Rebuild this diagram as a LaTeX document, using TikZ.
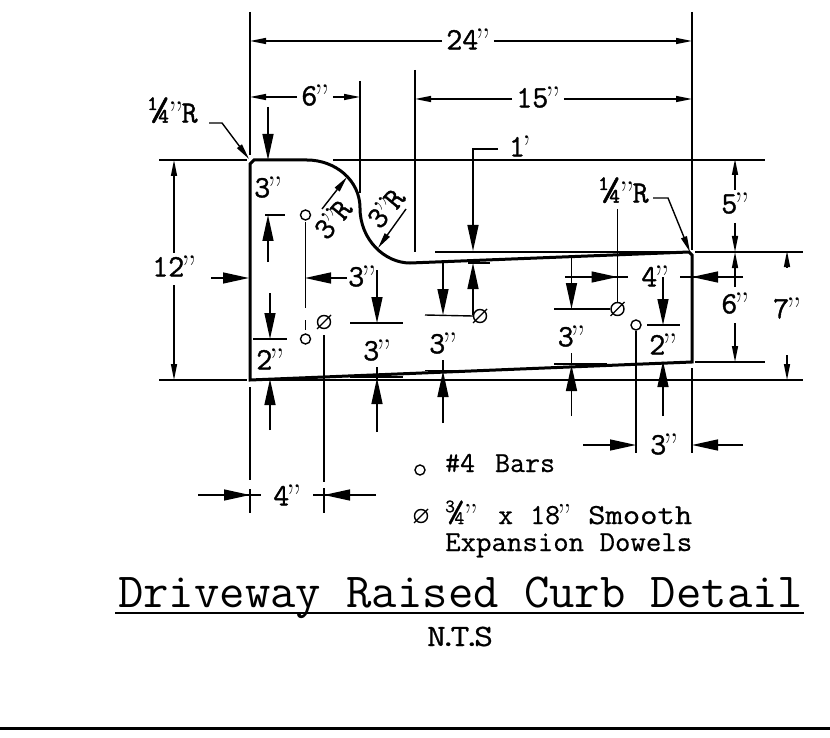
\documentclass[tikz,border=0pt]{standalone}
\usepackage{fontspec}
\newfontfamily\boldtt[FakeBold=1.2]{Latin Modern Mono}
\newfontfamily\semitt[FakeBold=0.6]{Latin Modern Mono}
\usetikzlibrary{arrows.meta}
\newcommand{\qq}{\kern-3pt{\rmfamily\raisebox{-0.13em}{\scalebox{1.15}{”}}}\kern-1pt}
\newcommand{\lblfont}{\fontsize{31}{33}\selectfont\boldtt}
\newcommand{\qtr}{\scalebox{1.3}{¼}}
\tikzset{
  dimline/.style={line width=1.4pt,line cap=butt},
  heavy/.style={line width=3pt,line join=miter},
  bigtip/.style={dimline,-{Triangle[length=26pt,width=11pt]}},
  smalltip/.style={dimline,-{Triangle[length=16pt,width=6pt]}},
  lbl/.style={inner sep=0pt,font=\lblfont},
  legend/.style={inner sep=0pt,anchor=base west,font=\fontsize{29}{30}\selectfont\semitt},
  bar/.style={circle,draw,line width=1.4pt,minimum size=10pt,inner sep=0pt},
  dowel/.style={circle,draw,line width=1.4pt,minimum size=13pt,inner sep=0pt},
  slash/.style={line width=1.4pt}
}
\newcommand{\dowelat}[3]{\node[dowel] (#1) at (#2,#3) {};
  \draw[slash] ([shift={(-7,7)}]#1.center) -- ([shift={(7,-7)}]#1.center);}
\begin{document}
\begin{tikzpicture}[x=1pt,y=-1pt]
\useasboundingbox (0,0) rectangle (830,738);
% curb outline
\draw[heavy] (250,380) -- (250,164) -- (254,160) -- (307,160)
  .. controls (335,160) and (360,180) .. (360,208)
  .. controls (360,240) and (385,263) .. (410,263)
  -- (689,252) -- (692,255) -- (692,362) -- cycle;
% extension lines
\draw[dimline] (159,160) -- (247,160);
\draw[dimline] (333,160) -- (765,160);
\draw[dimline] (159,380) -- (247,380);
\draw[dimline] (250,380) -- (803,380);
\draw[dimline] (435,252) -- (690,252);
\draw[dimline] (695,252) -- (803,252);
\draw[dimline] (695,362) -- (765,362);
\draw[dimline] (468,263) -- (490,263);
\draw[dimline] (250,12) -- (250,155);
\draw[dimline] (250,387) -- (250,480);
\draw[dimline] (250,489) -- (250,513);
\draw[dimline] (692,12) -- (692,250);
\draw[dimline] (692,368) -- (692,453);
\draw[dimline] (360,81) -- (360,193);
\draw[dimline] (415,70) -- (415,252);
% 24
\node[lbl] (d24) at (468,41) {24\qq};
\draw[smalltip] (d24.west) ++(-4,0) -- (250,41);
\draw[smalltip] (d24.east) ++(4,0) -- (692,41);
% 6
\node[lbl] (d6) at (315,97) {6\qq};
\draw[smalltip] (d6.west) ++(-4,0) -- (250,97);
\draw[smalltip] (d6.east) ++(4,0) -- (360,97);
% 15
\node[lbl] (d15) at (538,99) {15\qq};
\draw[smalltip] (d15.west) ++(-4,0) -- (415,99);
\draw[smalltip] (d15.east) ++(4,0) -- (692,99);
% quarter R left
\node[lbl] (qr1) at (173,112) {\qtr\kern2pt\qq\kern-1pt R};
\coordinate (qr1a) at (209,123);
\coordinate (qr1b) at (222,123);
\coordinate (qr1c) at (249,159);
\draw[smalltip] (qr1a) -- (qr1b) -- (qr1c);
% 12
\node[lbl] (d12) at (174,268) {12\qq};
\draw[smalltip] (174,253) -- (174,160);
\draw[smalltip] (174,285) -- (174,380);
\draw[bigtip] (211,278) -- (249,278);
% 3 left
\draw[bigtip] (268,107) -- (268,160);
\node[lbl] (d3a) at (268,189) {3\qq};
\draw[dimline] (265,215) -- (285,215);
\draw[bigtip] (268,262) -- (268,215);
% bars and dowels
\node[bar] (b1) at (305.5,215) {};
\node[bar] (b2) at (305.5,339) {};
\node[bar] (b3) at (636,325) {};
\dowelat{o1}{324}{322}
\dowelat{o2}{480}{316}
\dowelat{o3}{617.5}{309}
\draw[dimline] (305.5,222) -- (305.5,308);
\draw[dimline] (305.5,320) -- (305.5,330);
\draw[dimline] (324,335) -- (324,482);
\draw[dimline] (324,488) -- (324,513);
% 3 horizontal
\node[lbl] (d3b) at (362,278) {3\qq};
\draw[bigtip] (347,278) -- (305,278);
% 3 at x=377
\draw[bigtip] (377,270) -- (377,323);
\draw[dimline] (350,323) -- (403,323);
\node[lbl] (d3c) at (377,352) {3\qq};
\draw[dimline] (377,367) -- (377,380);
\draw[bigtip] (377,432) -- (377,378);
\draw[dimline] (350,377) -- (403,377);
% 2 left
\draw[bigtip] (270,293) -- (270,339);
\draw[dimline] (253,339) -- (287,339);
\node[lbl] (d2a) at (270,361) {2\qq};
\draw[bigtip] (270,430) -- (270,379);
% 4 bottom
\node[lbl] (d4a) at (287,497) {4\qq};
\draw[dimline] (198,495) -- (261,495);
\draw[bigtip] (198,495) -- (250,495);
\draw[dimline] (313,495) -- (376,495);
\draw[bigtip] (376,495) -- (324,495);
% 1'
\node[lbl] (d1p) at (520,148) {1\kern-3pt{\rmfamily\raisebox{-0.13em}{\scalebox{1.15}{’}}}};
\coordinate (lp1) at (498,149);
\coordinate (lp2) at (473,149);
\draw[bigtip] (lp1) -- (lp2) -- (473,251);
\draw[dimline] (425,315) -- (o2.west);
\draw[bigtip] (473,315) -- (473,263);
% 3 at x=443
\draw[bigtip] (443,263) -- (443,315);
\node[lbl] (d3d) at (443,345) {3\qq};
\draw[dimline] (443,360) -- (443,371);
\draw[bigtip] (443,423) -- (443,371);
\draw[dimline] (425,370.5) -- (460,370.5);
% 3 at x=571
\draw[bigtip] (571.5,258) -- (571.5,309);
\draw[dimline] (554,309) -- (o3.west);
\node[lbl] (d3e) at (571.5,338) {3\qq};
\draw[dimline] (571.5,353) -- (571.5,365);
\draw[bigtip] (571.5,416) -- (571.5,365);
\draw[dimline] (554,364) -- (607,364);
% 4 right
\draw[dimline] (617.5,209) -- (o3.north);
\draw[dimline] (565,277) -- (628,277);
\draw[bigtip] (565,277) -- (617.5,277);
\node[lbl] (d4b) at (655,278) {4\qq};
\draw[dimline] (680,277) -- (743,277);
\draw[bigtip] (743,277) -- (692,277);
% 2 right
\draw[bigtip] (663,277) -- (663,325);
\draw[dimline] (647,325) -- (680,325);
\node[lbl] (d2b) at (663,346) {2\qq};
\draw[bigtip] (663,416) -- (663,361);
\draw[dimline] (b3.south) -- (636,453);
% 3 lower right
\node[lbl] (d3f) at (664,446) {3\qq};
\draw[bigtip] (583,445) -- (636,445);
\draw[bigtip] (743,445) -- (692,445);
% quarter R right
\node[lbl] (qr2) at (624,192) {\qtr\kern2pt\qq\kern-1pt R};
\coordinate (qr2a) at (653,198);
\coordinate (qr2b) at (668,198);
\coordinate (qr2c) at (690,252);
\draw[smalltip] (qr2a) -- (qr2b) -- (qr2c);
% 5
\draw[smalltip] (735,190) -- (735,159);
\node[lbl] (d5) at (735,205) {5\qq};
\draw[smalltip] (735,223) -- (735,252);
% 6 right
\draw[smalltip] (735,287) -- (735,252);
\node[lbl] (d6b) at (735,305) {6\qq};
\draw[smalltip] (735,323) -- (735,362);
% 7
\draw[smalltip] (787,267) -- (787,251);
\node[lbl] (d7) at (787,310) {7\qq};
\draw[smalltip] (787,355) -- (787,380);
% 3R labels
\node[lbl,rotate=50] (r1) at (334,220) {3\qq\kern-2pt R};
\draw[smalltip] (322,209) -- (347,177);
\node[lbl,rotate=50] (r2) at (387,209) {3\qq\kern-2pt R};
\draw[smalltip] (406,209) -- (378,248);
% legend
\node[bar] (lb) at (420,470) {};
\node[legend] (lt1) at (445,472) {\#4\hspace{20pt}\resizebox{60pt}{\height}{Bars}};
\dowelat{ld}{421}{516}
\node[legend] (lt2a) at (445,524) {\scalebox{1.3}{¾}\kern2pt\qq};
\node[legend] (lt2b) at (498,524) {x};
\node[legend] (lt2c) at (530,524) {18\qq};
\node[legend] (lt2d) at (588,524) {\resizebox{104pt}{\height}{Smooth}};
\node[legend] (lt3) at (445,551) {\resizebox{247pt}{\height}{Expansion Dowels}};
% title
\node[inner sep=0pt,anchor=base west,font=\fontsize{49}{50}\selectfont\ttfamily] (title) at (118,607) {\resizebox{685pt}{\height}{Driveway Raised Curb Detail}};
\draw[line width=2.2pt] (115,613) -- (804,613);
\node[inner sep=0pt,anchor=base,font=\fontsize{31}{32}\selectfont\semitt] (nts) at (460,646) {\resizebox{66pt}{\height}{N\kern-6pt.\kern-6pt T\kern-6pt.\kern-6pt S}};
% bottom rule
\draw[line width=3pt] (0,728) -- (830,728);
\end{tikzpicture}
\end{document}
